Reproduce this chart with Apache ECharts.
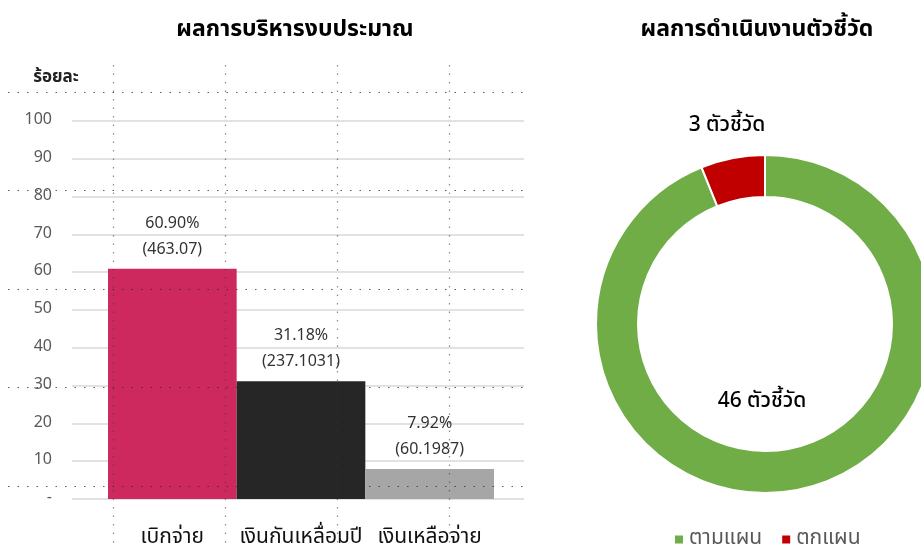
<!DOCTYPE html>
<html>
<head>
<meta charset="utf-8">
<script src="https://cdn.jsdelivr.net/npm/echarts@6/dist/echarts.min.js"></script>
<style>html,body{margin:0;padding:0;background:#fff}#c{width:921px;height:549px}</style>
</head>
<body>
<div id="c"></div>
<script>
// ---- data ----
var categories = ['เบิกจ่าย', 'เงินกันเหลื่อมปี', 'เงินเหลือจ่าย'];
var percentValues = [60.90, 31.18, 7.92];
var amountLabels = ['463.07', '237.1031', '60.1987'];
var yTickLabels = ['-', '10', '20', '30', '40', '50', '60', '70', '80', '90', '100'];
var kpiNames = ['ตามแผน', 'ตกแผน'];
var kpiCounts = [46, 3];
var kpiUnit = 'ตัวชี้วัด';

var barColors = ['#CE295E', '#262626', '#A6A6A6'];
var kpiColors = ['#70AD47', '#C00000'];
var FONT = "Tahoma, 'Noto Sans Thai', 'Noto Sans', 'DejaVu Sans', sans-serif";

var chart = echarts.init(document.getElementById('c'));
var dotted = {type: [1.5, 8], color: 'rgba(40,40,40,0.75)', width: 1.2};

var option = {
  animation: false,
  textStyle: {fontFamily: FONT},
  title: [
    {text: 'ผลการบริหารงบประมาณ', left: 290, top: 15, textAlign: 'center',
     textStyle: {fontSize: 23, fontWeight: 'bold', color: '#000', fontFamily: FONT}},
    {text: 'ผลการดำเนินงานตัวชี้วัด', left: 752, top: 15, textAlign: 'center',
     textStyle: {fontSize: 23, fontWeight: 'bold', color: '#000', fontFamily: FONT}},
    {text: 'ร้อยละ', left: 51, top: 65, textAlign: 'center',
     textStyle: {fontSize: 17, fontWeight: 'bold', color: '#222', fontFamily: FONT}}
  ],
  legend: {
    data: kpiNames, left: 668, top: 524, icon: 'rect', itemWidth: 10, itemHeight: 10, itemGap: 18,
    textStyle: {fontSize: 21, color: '#595959', fontFamily: FONT}
  },
  grid: [
    {left: 72, width: 452, top: 121, height: 378},   // value axis grid
    {left: 108, width: 386, top: 121, height: 378},  // bars
    {left: 8, width: 515, top: 92, height: 394},     // horizontal dotted overlay
    {left: 1, width: 560, top: 65, height: 484}      // vertical dotted overlay
  ],
  xAxis: [
    {gridIndex: 0, type: 'value', show: false},
    {gridIndex: 1, type: 'category', data: categories,
     axisLine: {show: false}, axisTick: {show: false},
     axisLabel: {interval: 0, margin: 29, fontSize: 21, color: '#111', fontFamily: FONT}},
    {gridIndex: 2, type: 'value', show: false},
    {gridIndex: 3, type: 'category', data: ['', '', '', '', '', ''], boundaryGap: false, z: 10,
     axisLine: {show: false}, axisTick: {show: false}, axisLabel: {show: false},
     splitLine: {show: true, interval: function (i) { return i >= 1 && i <= 4; },
                 lineStyle: {type: [1.5, 7], color: 'rgba(60,60,60,0.6)', width: 1.2}}}
  ],
  yAxis: [
    {gridIndex: 0, type: 'value', min: 0, max: 100, interval: 10,
     axisLine: {show: false}, axisTick: {show: false},
     axisLabel: {margin: 20, fontSize: 16, color: '#595959', fontFamily: FONT,
                 formatter: function (v) { return yTickLabels[Math.round(v / 10)]; }},
     splitLine: {lineStyle: {color: '#D9D9D9', width: 1.5}}},
    {gridIndex: 1, type: 'value', min: 0, max: 100, interval: 10, show: false},
    {gridIndex: 2, type: 'category', data: ['', '', '', '', ''], boundaryGap: false, z: 10,
     axisLine: {show: false}, axisTick: {show: false}, axisLabel: {show: false},
     splitLine: {show: true, interval: 0, lineStyle: dotted}},
    {gridIndex: 3, type: 'value', show: false}
  ],
  series: [
    {
      type: 'bar', xAxisIndex: 1, yAxisIndex: 1, barCategoryGap: 0, z: 2,
      data: percentValues.map(function (v, i) {
        return {value: v, itemStyle: {color: barColors[i]}};
      }),
      label: {
        show: true, position: 'top', distance: 5, lineHeight: 26,
        fontSize: 16, color: '#333', fontFamily: FONT,
        formatter: function (p) {
          return p.value.toFixed(2) + '%\n(' + amountLabels[p.dataIndex] + ')';
        }
      }
    },
    {
      type: 'pie', name: 'KPI', center: [765, 324], radius: [127, 169],
      startAngle: 90, clockwise: true,
      itemStyle: {borderColor: '#fff', borderWidth: 2},
      data: kpiNames.map(function (n, i) {
        return {name: n, value: kpiCounts[i], itemStyle: {color: kpiColors[i]}};
      }),
      label: {
        show: true, position: 'outside', alignTo: 'none', overflow: 'none', width: 200,
        fontSize: 21, color: '#000', fontFamily: FONT, fontWeight: 500,
        formatter: function (p) { return p.value + ' ' + kpiUnit; }
      },
      labelLine: {show: false},
      labelLayout: function (p) {
        return p.dataIndex === 0
          ? {x: 762, y: 403, align: 'center', verticalAlign: 'middle', width: 200}
          : {x: 727, y: 127, align: 'center', verticalAlign: 'middle', width: 200};
      }
    }
  ]
};
chart.setOption(option);
</script>
</body>
</html>
